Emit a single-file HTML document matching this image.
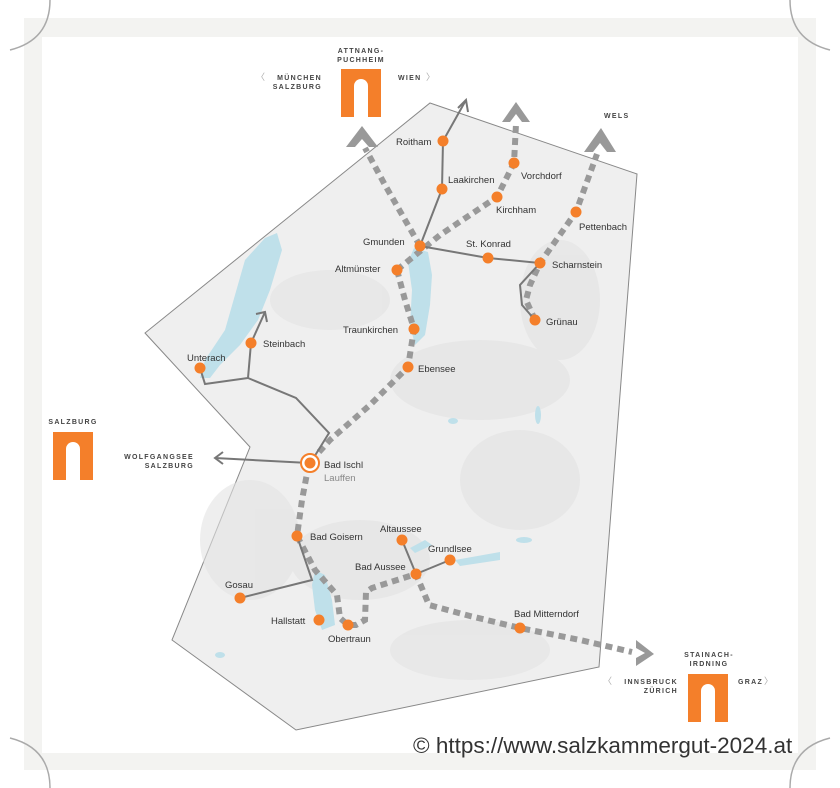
<!DOCTYPE html>
<html><head><meta charset="utf-8"><style>
html,body{margin:0;padding:0;background:#fff;}
svg{display:block;}
text{font-family:"Liberation Sans",sans-serif;}
</style></head><body>
<svg width="840" height="788" viewBox="0 0 840 788" xmlns="http://www.w3.org/2000/svg">
<rect x="0" y="0" width="840" height="788" fill="#fff"/>
<rect x="24" y="18" width="792" height="752" fill="#f3f3f1"/>
<rect x="42" y="37" width="756" height="716" fill="#fff"/>
<path d="M50 0 Q50 40 10 50" fill="none" stroke="#aaa" stroke-width="1.5"/>
<path d="M790 0 Q790 40 830 50" fill="none" stroke="#aaa" stroke-width="1.5"/>
<path d="M50 788 Q50 748 10 738" fill="none" stroke="#aaa" stroke-width="1.5"/>
<path d="M790 788 Q790 748 830 738" fill="none" stroke="#aaa" stroke-width="1.5"/>

<polygon points="430,103 637,174 599,667 296,730 172,640 250,447 145,333" fill="#efefef" stroke="#888" stroke-width="1"/>
<g fill="#e2e2e2" opacity="0.6">
<ellipse cx="480" cy="380" rx="90" ry="40"/>
<ellipse cx="360" cy="560" rx="70" ry="40"/>
<ellipse cx="520" cy="480" rx="60" ry="50"/>
<ellipse cx="250" cy="540" rx="50" ry="60"/>
<ellipse cx="470" cy="650" rx="80" ry="30"/>
<ellipse cx="560" cy="300" rx="40" ry="60"/>
<ellipse cx="330" cy="300" rx="60" ry="30"/>
</g>
<g fill="#bfe0ea">
<path d="M277,233 L282,250 L270,290 L258,320 L240,345 L220,365 L210,378 L200,378 L205,360 L225,330 L235,295 L245,260 L265,238 Z"/>
<path d="M414,248 L428,252 L432,275 L430,305 L425,335 L415,345 L410,325 L412,290 L408,262 Z"/>
<path d="M315,570 L325,575 L332,600 L335,625 L322,630 L315,610 L312,585 Z"/>
<path d="M410,548 L425,540 L432,545 L415,553 Z"/>
<path d="M455,560 L500,552 L500,560 L460,566 Z"/>
<ellipse cx="524" cy="540" rx="8" ry="3"/>
<ellipse cx="453" cy="421" rx="5" ry="3"/>
<ellipse cx="538" cy="415" rx="3" ry="9"/>
<ellipse cx="220" cy="655" rx="5" ry="3"/>
</g>

<g fill="none" stroke="#999" stroke-width="6" stroke-dasharray="7,5">
<polyline points="420,246 385,185 365,148"/>
<polyline points="397,270 440,235 497,197 514,163 516,124"/>
<polyline points="397,270 405,300 414,329 408,367 370,405 330,440 309,463 302,500 297,536 315,570 337,595 340,618 348,625 356,625 365,620 366,592 372,588 416,574 429,605 470,616 520,628 580,640 632,652"/>
<polyline points="535,320 526,300 530,285 540,263 576,212 597,154"/>
</g>
<g fill="#999">
<polygon points="362,126 378,147 369,147 362,139 355,147 346,147"/>
<polygon points="516,102 530,122 522,122 516,114 510,122 502,122"/>
<polygon points="601,128 616,152 607,152 600,143 593,152 584,152"/>
<polygon points="654,654 636,666 636,658 645,653 636,648 636,640"/>
</g>

<g fill="none" stroke="#777" stroke-width="2">
<polyline points="420,246 442,189 443,141 466,100"/>
<polyline points="458,108 466,100 468,112"/>
<polyline points="420,246 488,258 540,263 520,285 522,305 535,320"/>
<polyline points="200,368 205,384 248,378 251,343 265,312"/>
<polyline points="256,314 265,312 267,322"/>
<polyline points="248,378 296,398 329,433 311,462"/>
<polyline points="309,463 215,458"/>
<polyline points="223,452 215,458 223,464"/>
<polyline points="297,536 312,580 240,598"/>
<polyline points="402,540 416,574 450,560"/>
</g>

<g fill="#f47f2a">
<circle cx="443" cy="141" r="5.5"/><circle cx="442" cy="189" r="5.5"/>
<circle cx="514" cy="163" r="5.5"/><circle cx="497" cy="197" r="5.5"/>
<circle cx="576" cy="212" r="5.5"/><circle cx="420" cy="246" r="5.5"/>
<circle cx="488" cy="258" r="5.5"/><circle cx="540" cy="263" r="5.5"/>
<circle cx="397" cy="270" r="5.5"/><circle cx="535" cy="320" r="5.5"/>
<circle cx="414" cy="329" r="5.5"/><circle cx="408" cy="367" r="5.5"/>
<circle cx="251" cy="343" r="5.5"/><circle cx="200" cy="368" r="5.5"/>
<circle cx="297" cy="536" r="5.5"/><circle cx="402" cy="540" r="5.5"/>
<circle cx="450" cy="560" r="5.5"/><circle cx="416" cy="574" r="5.5"/>
<circle cx="240" cy="598" r="5.5"/><circle cx="319" cy="620" r="5.5"/>
<circle cx="348" cy="625" r="5.5"/><circle cx="520" cy="628" r="5.5"/>
<circle cx="310" cy="463" r="9" fill="#fff" stroke="#f47f2a" stroke-width="2"/>
<circle cx="310" cy="463" r="5.5"/>
</g>

<g font-size="9.5" fill="#333">
<text x="396" y="145">Roitham</text>
<text x="448" y="183">Laakirchen</text>
<text x="521" y="179">Vorchdorf</text>
<text x="496" y="213">Kirchham</text>
<text x="579" y="230">Pettenbach</text>
<text x="363" y="245">Gmunden</text>
<text x="466" y="247">St. Konrad</text>
<text x="552" y="268">Scharnstein</text>
<text x="335" y="272">Altmünster</text>
<text x="546" y="325">Grünau</text>
<text x="343" y="333">Traunkirchen</text>
<text x="418" y="372">Ebensee</text>
<text x="263" y="347">Steinbach</text>
<text x="187" y="361">Unterach</text>
<text x="324" y="468">Bad Ischl</text>
<text x="324" y="481" fill="#888">Lauffen</text>
<text x="310" y="540">Bad Goisern</text>
<text x="380" y="532">Altaussee</text>
<text x="428" y="552">Grundlsee</text>
<text x="355" y="570">Bad Aussee</text>
<text x="225" y="588">Gosau</text>
<text x="271" y="624">Hallstatt</text>
<text x="328" y="642">Obertraun</text>
<text x="514" y="617">Bad Mitterndorf</text>
</g>
<g font-size="7" fill="#444" letter-spacing="1.3" font-weight="bold">
<text x="361" y="53" text-anchor="middle">ATTNANG-</text>
<text x="361" y="62" text-anchor="middle">PUCHHEIM</text>
<text x="322" y="80" text-anchor="end">MÜNCHEN</text>
<text x="322" y="89" text-anchor="end">SALZBURG</text>
<text x="398" y="80">WIEN</text>
<text x="604" y="118">WELS</text>
<text x="73" y="424" text-anchor="middle">SALZBURG</text>
<text x="194" y="459" text-anchor="end">WOLFGANGSEE</text>
<text x="194" y="468" text-anchor="end">SALZBURG</text>
<text x="709" y="657" text-anchor="middle">STAINACH-</text>
<text x="709" y="666" text-anchor="middle">IRDNING</text>
<text x="678" y="684" text-anchor="end">INNSBRUCK</text>
<text x="678" y="693" text-anchor="end">ZÜRICH</text>
<text x="738" y="684">GRAZ</text>
</g>
<g font-size="9" fill="#aaa">
<text x="256" y="80">〈</text><text x="426" y="80">〉</text>
<text x="603" y="684">〈</text><text x="764" y="684">〉</text>
</g>
<g>
<rect x="341" y="69" width="40" height="48" fill="#f47f2a"/>
<path d="M354,117 L354,86 A7,7 0 0 1 368,86 L368,117 Z" fill="#fff"/>
<rect x="53" y="432" width="40" height="48" fill="#f47f2a"/>
<path d="M66,480 L66,449 A7,7 0 0 1 80,449 L80,480 Z" fill="#fff"/>
<rect x="688" y="674" width="40" height="48" fill="#f47f2a"/>
<path d="M701,722 L701,691 A7,7 0 0 1 715,691 L715,722 Z" fill="#fff"/>
</g>
<text x="413" y="753" font-size="22.5" fill="#333">© https://www.salzkammergut-2024.at</text>
</svg>
</body></html>
